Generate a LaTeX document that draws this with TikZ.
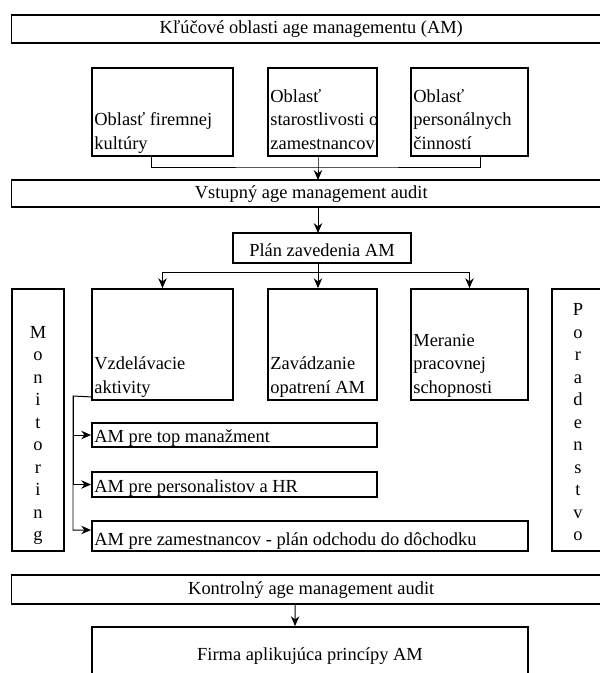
\documentclass[tikz,border=0pt]{standalone}
\usepackage{fontspec}
\setmainfont{Liberation Serif}
\usetikzlibrary{arrows.meta, fit, calc}

\tikzset{
    box/.style={draw, line width=1.3pt, inner sep=0pt},
    ctxt/.style={inner sep=0pt, anchor=base},
    txt/.style={inner xsep=2pt, inner ysep=0pt, align=left, anchor=south west},
    lbl/.style={inner xsep=2pt, inner ysep=0pt, anchor=base west},
    vtxt/.style={inner sep=0pt, align=center, anchor=south, font=\fontsize{13.1pt}{16pt}\selectfont}
}

\begin{document}
\begin{tikzpicture}[x=0.025cm, y=-0.025cm, >={Stealth[length=7pt, width=6pt]}, line width=0.7pt,
        font=\fontsize{13.1pt}{16.7pt}\selectfont]
        \useasboundingbox (0,0) rectangle (600,673);
        \clip (0,0) rectangle (600,673);

        % key areas
        \node[box, fit={(11.5,15) (611,43)}] (kluc) {};
        \node[ctxt] (kluctxt) at ($(kluc.center)+(0,4)$) {Kľúčové oblasti age managementu (AM)};
        \node[box, fit={(92,68) (233,156)}] (kultura) {};
        \node[txt] (kulturatxt) at (kultura.south west) {Oblasť firemnej\\kultúry\strut};
        \node[box, fit={(268,68) (377,156)}] (starost) {};
        \node[txt] (starosttxt) at (starost.south west) {Oblasť\\starostlivosti o\\zamestnancov\strut};
        \node[box, fit={(411,68) (528,156)}] (personal) {};
        \node[txt] (personaltxt) at (personal.south west) {Oblasť\\personálnych\\činností\strut};
        \coordinate (bus1) at (318,167);
        \draw ($(kultura.south)+(-11,0)$) |- (bus1) -| ($(personal.south)+(11,0)$);
        \draw[->] (starost.south -| bus1) -- (bus1) -- (bus1 |- 0,180);

        % audit and plan
        \node[box, fit={(11.5,180) (611,207)}] (vstup) {};
        \node[ctxt] (vstuptxt) at ($(vstup.center)+(0,5)$) {Vstupný age management audit};
        \draw[->] (vstup.south -| bus1) -- (bus1 |- 0,233);
        \node[box, fit={(233,233) (411,263)}] (plan) {};
        \node[ctxt] (plantxt) at ($(plan.center)+(0,8)$) {Plán zavedenia AM};
        \coordinate (bus2) at (318,272);
        \draw (plan.south -| bus2) -- (bus2);

        % middle row
        \node[box, fit={(12,289) (64,551)}] (monit) {};
        \node[vtxt] (monittxt) at ($(monit.south)+(0,-4)$) {M\\o\\n\\i\\t\\o\\r\\i\\n\\g\strut};
        \node[box, fit={(92,289) (233,400)}] (vzdel) {};
        \node[txt] (vzdeltxt) at (vzdel.south west) {Vzdelávacie\\aktivity\strut};
        \node[box, fit={(268,289) (377,400)}] (zavad) {};
        \node[txt] (zavadtxt) at (zavad.south west) {Zavádzanie\\opatrení AM\strut};
        \node[box, fit={(411,289) (528,400)}] (meranie) {};
        \node[txt] (meranietxt) at (meranie.south west) {Meranie\\pracovnej\\schopnosti\strut};
        \node[box, fit={(552,289) (604,551)}] (porad) {};
        \node[vtxt] (poradtxt) at ($(porad.south)+(0,-4)$) {P\\o\\r\\a\\d\\e\\n\\s\\t\\v\\o\strut};
        \draw[->] (bus2) -| (vzdel.north);
        \draw[->] (bus2) -- (bus2 |- zavad.north);
        \draw[->] (bus2) -| (meranie.north);

        % target groups
        \node[box, fit={(92,423) (377,447)}] (amtop) {};
        \node[lbl] (amtoptxt) at ($(amtop.south west)+(0,-5)$) {AM pre top manažment};
        \node[box, fit={(92,472) (377,497)}] (ampers) {};
        \node[lbl] (amperstxt) at ($(ampers.south west)+(0,-5)$) {AM pre personalistov a HR};
        \node[box, fit={(92,521) (528,551)}] (amzam) {};
        \node[lbl] (amzamtxt) at ($(amzam.south west)+(0,-6)$) {AM pre zamestnancov - plán odchodu do dôchodku};
        \coordinate (rail) at (73,396);
        \draw[->] ($(vzdel.south west)+(0,-4)$) -- (rail) |- ($(amzam.west)+(0,-6)$);
        \draw[->] (rail) |- (amtop.west);
        \draw[->] (rail) |- (ampers.west);

        % control audit
        \node[box, fit={(11.5,575) (611,604)}] (kontrol) {};
        \node[ctxt] (kontroltxt) at ($(kontrol.center)+(0,5)$) {Kontrolný age management audit};
        \node[box, fit={(92,627) (528,700)}] (firma) {};
        \node[ctxt] (firmatxt) at (310,660) {Firma aplikujúca princípy AM};
        \draw[->] ($(kontrol.south)+(-16,0)$) -- ($(firma.north)+(-15,0)$);
    \end{tikzpicture}
\end{document}
